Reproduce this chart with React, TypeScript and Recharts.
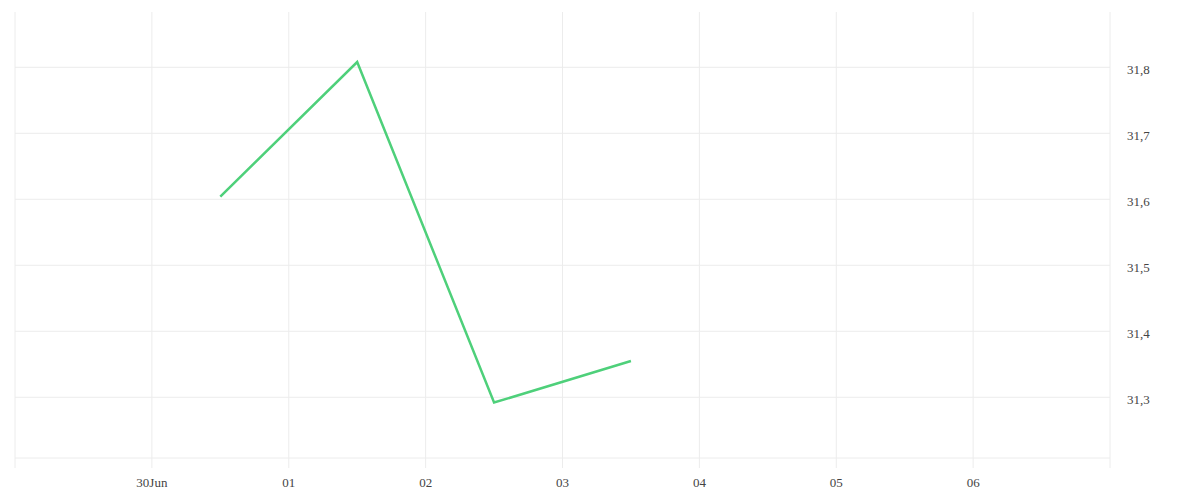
import { LineChart, Line, XAxis, YAxis, CartesianGrid, ReferenceLine } from 'recharts'

// daily closes, timestamped at noon
const pointDates = ['2023-06-30T12:00:00Z', '2023-07-01T12:00:00Z', '2023-07-02T12:00:00Z', '2023-07-03T12:00:00Z']
const pointValues = [31.604, 31.808, 31.292, 31.355]

// x ticks at midnight, first and last carry no label
const tickDates = [
  '2023-06-29T00:00:00Z',
  '2023-06-30T00:00:00Z',
  '2023-07-01T00:00:00Z',
  '2023-07-02T00:00:00Z',
  '2023-07-03T00:00:00Z',
  '2023-07-04T00:00:00Z',
  '2023-07-05T00:00:00Z',
  '2023-07-06T00:00:00Z',
  '2023-07-07T00:00:00Z',
]
const tickLabels = ['', '30Jun', '01', '02', '03', '04', '05', '06', '']

const yTicks = [31.3, 31.4, 31.5, 31.6, 31.7, 31.8]
const yDomain = [31.208, 31.8838]

const data = pointDates.map((d, i) => ({ t: Date.parse(d), value: pointValues[i] }))
const xTicks = tickDates.map(d => Date.parse(d))

const font = '"Liberation Serif", "Times New Roman", serif'
const gridColor = '#ececec'

export default function App() {
  return (
    <LineChart
      width={1184}
      height={484}
      data={data}
      margin={{ top: 4, right: 0, left: 7, bottom: 0 }}
      style={{ fontFamily: font }}
    >
      <CartesianGrid stroke={gridColor} strokeWidth={1} horizontal={false} />
      {/* horizontal grid only at the labelled values, no line on top edge */}
      {yTicks.map(t => (
        <ReferenceLine key={t} y={t} stroke={gridColor} strokeWidth={1} />
      ))}
      <XAxis
        dataKey="t"
        type="number"
        scale="time"
        domain={[xTicks[0], xTicks[xTicks.length - 1]]}
        ticks={xTicks}
        interval={0}
        height={34}
        stroke={gridColor}
        tickSize={10}
        tickMargin={10}
        tick={{ fill: '#444', fontSize: 13, fontFamily: font }}
        tickFormatter={(v) => tickLabels[xTicks.indexOf(v)] ?? ''}
      />
      <YAxis
        orientation="right"
        type="number"
        domain={yDomain}
        ticks={yTicks}
        interval={0}
        width={82}
        axisLine={false}
        tickLine={false}
        tickSize={0}
        tickMargin={17}
        tick={{ fill: '#444', fontSize: 13, fontFamily: font, dy: 2 }}
        tickFormatter={(v) => v.toFixed(1).replace('.', ',')}
      />
      <Line
        type="linear"
        dataKey="value"
        stroke="#4ed07a"
        strokeWidth={2.5}
        dot={false}
        isAnimationActive={false}
      />
    </LineChart>
  )
}
